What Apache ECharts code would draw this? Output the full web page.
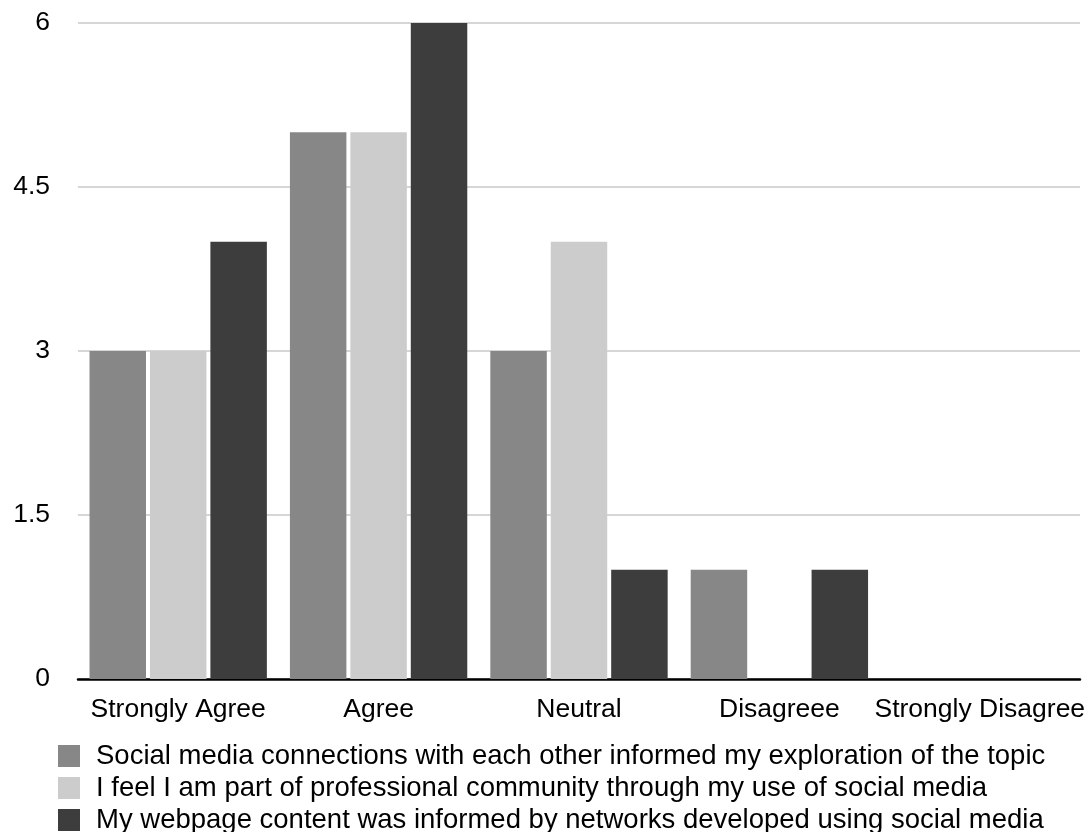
<!DOCTYPE html>
<html>
<head>
<meta charset="utf-8">
<script src="https://cdn.jsdelivr.net/npm/echarts@6/dist/echarts.min.js"></script>
<style>
  html, body { margin: 0; padding: 0; background: #fff; }
  #chart { width: 1088px; height: 832px; }
</style>
</head>
<body>
<div id="chart"></div>
<script>
// Survey responses by level of agreement
const categories = ['Strongly Agree', 'Agree', 'Neutral', 'Disagreee', 'Strongly Disagree'];
const seriesNames = [
  'Social media connections with each other informed my exploration of the topic',
  'I feel I am part of professional community through my use of social media',
  'My webpage content was informed by networks developed using social media'
];
const connectionsValues = [3, 5, 3, 1, 0];
const communityValues = [3, 5, 4, 0, 0];
const webpageValues = [4, 6, 1, 1, 0];
const yTicks = [0, 1.5, 3, 4.5, 6];

const colors = ['#878787', '#cccccc', '#3d3d3d'];
const font = '"Liberation Sans", Arial, Helvetica, sans-serif';
const legendTops = [737, 769, 801];

const chart = echarts.init(document.getElementById('chart'));
chart.setOption({
  animation: false,
  color: colors,
  textStyle: { fontFamily: font },
  grid: { left: 78, right: 7, top: 23, bottom: 153, containLabel: false },
  // one legend row per series, stacked beneath the axis
  legend: seriesNames.map((name, i) => ({
    orient: 'vertical',
    left: 53,
    top: legendTops[i],
    itemWidth: 22,
    itemHeight: 22,
    icon: 'rect',
    selectedMode: false,
    textStyle: { fontFamily: font, fontSize: 27.5, color: '#000', padding: [0, 0, 0, 11] },
    data: [name]
  })),
  xAxis: {
    type: 'category',
    data: categories,
    axisLine: { show: true, lineStyle: { color: '#000', width: 2.5 } },
    axisTick: { show: false },
    axisLabel: { fontFamily: font, fontSize: 26.5, color: '#000', margin: 17, interval: 0 }
  },
  yAxis: {
    type: 'value',
    min: yTicks[0],
    max: yTicks[yTicks.length - 1],
    interval: yTicks[1] - yTicks[0],
    axisLine: { show: false },
    axisTick: { show: false },
    splitLine: { lineStyle: { color: '#c8c8c8', width: 1.5 } },
    axisLabel: { fontFamily: font, fontSize: 26.5, color: '#000', margin: 28 }
  },
  series: [connectionsValues, communityValues, webpageValues].map((vals, i) => ({
    name: seriesNames[i],
    type: 'bar',
    data: vals,
    barGap: '7%',
    barCategoryGap: '11.5%',
    itemStyle: { color: colors[i] }
  }))
});
</script>
</body>
</html>
